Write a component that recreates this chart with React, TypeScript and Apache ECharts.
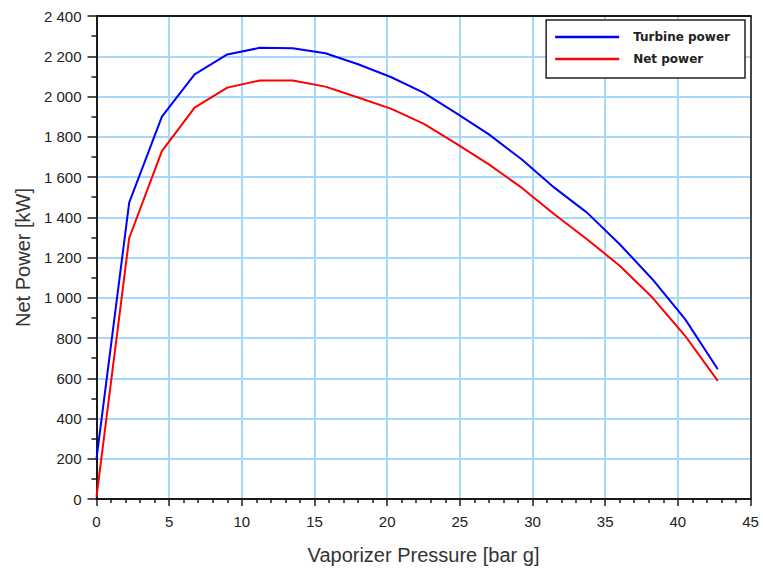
import React, { useEffect, useRef } from "react";
import * as echarts from "echarts";

// Vaporizer pressure sweep [bar g]
const pressure = [0, 2.25, 4.5, 6.75, 9, 11.25, 13.5, 15.75, 18, 20.25, 22.5, 24.75, 27, 29.25, 31.5, 33.75, 36, 38.25, 40.5, 42.75];
// Turbine power [kW]
const turbinePower = [200, 1473, 1900, 2110, 2209, 2242, 2240, 2215, 2160, 2097, 2019, 1917, 1812, 1688, 1547, 1423, 1266, 1092, 894, 645];
// Net power [kW]
const netPower = [10, 1297, 1729, 1945, 2044, 2080, 2080, 2049, 1995, 1940, 1865, 1766, 1663, 1547, 1415, 1291, 1159, 1001, 811, 587];

const seriesNames = ["Turbine power", "Net power"];
const seriesColors = ["#0000ff", "#ff0000"];

const FONT = "'Liberation Sans', Arial, sans-serif";
const GRID_BLUE = "#a6d8fc";
const AXIS_DARK = "#1a1a1a";

// y labels use a space as thousands separator: "2 400"
const fmtThousands = (v: number) => {
  if (v < 1000) return String(v);
  const th = Math.floor(v / 1000);
  const rest = String(v % 1000).padStart(3, "0");
  return `${th} ${rest}`;
};

export default function App() {
  const ref = useRef<HTMLDivElement>(null);

  useEffect(() => {
    if (!ref.current) return;
    const chart = echarts.init(ref.current, undefined, { renderer: "svg" });

    const toPairs = (ys: number[]) => pressure.map((p, i) => [p, ys[i]]);

    chart.setOption({
      animation: false,
      backgroundColor: "#ffffff",
      grid: { left: 96.5, right: 12.5, top: 16, bottom: 70, containLabel: false },
      legend: {
        orient: "vertical",
        right: 18,
        top: 20,
        backgroundColor: "#ffffff",
        borderColor: "#222",
        borderWidth: 1.5,
        padding: [10, 15, 12, 9],
        itemWidth: 64,
        itemHeight: 2.5,
        itemGap: 8,
        icon: "rect",
        textStyle: {
          fontFamily: "'DejaVu Sans', sans-serif",
          fontWeight: "bold",
          fontSize: 12,
          color: "#222",
          lineHeight: 14,
          padding: [0, 0, 0, 9],
        },
        data: seriesNames,
      },
      xAxis: [
        {
          type: "value",
          min: 0,
          max: 45,
          interval: 5,
          name: "Vaporizer Pressure [bar g]",
          nameLocation: "middle",
          nameGap: 46,
          nameTextStyle: { fontFamily: FONT, fontSize: 20, color: "#333" },
          axisLine: { show: true, onZero: false, lineStyle: { color: AXIS_DARK, width: 2 } },
          axisTick: { show: true, inside: false, length: 7, lineStyle: { color: AXIS_DARK, width: 1.5 } },
          minorTick: { show: true, splitNumber: 5, length: 4, lineStyle: { color: AXIS_DARK, width: 1.5 } },
          axisLabel: { margin: 15, fontFamily: FONT, fontSize: 15, color: "#222" },
          splitLine: { show: true, lineStyle: { color: GRID_BLUE, width: 2 } },
          minorSplitLine: { show: false },
        },
        {
          type: "value",
          position: "top",
          min: 0,
          max: 45,
          interval: 5,
          axisLine: { show: true, onZero: false, lineStyle: { color: AXIS_DARK, width: 2 } },
          axisTick: { show: false },
          axisLabel: { show: false },
          splitLine: { show: false },
        },
      ],
      yAxis: [
        {
          type: "value",
          min: 0,
          max: 2400,
          interval: 200,
          name: "Net Power [kW]",
          nameLocation: "middle",
          nameGap: 64,
          nameRotate: 90,
          nameTextStyle: { fontFamily: FONT, fontSize: 20, color: "#333" },
          axisLine: { show: true, onZero: false, lineStyle: { color: AXIS_DARK, width: 2 } },
          axisTick: { show: true, inside: false, length: 9, lineStyle: { color: AXIS_DARK, width: 1.5 } },
          minorTick: { show: true, splitNumber: 2, length: 5, lineStyle: { color: AXIS_DARK, width: 1.5 } },
          axisLabel: { margin: 15, fontFamily: FONT, fontSize: 15, color: "#222", formatter: fmtThousands },
          splitLine: { show: true, lineStyle: { color: GRID_BLUE, width: 2 } },
          minorSplitLine: { show: false },
        },
        {
          type: "value",
          position: "right",
          min: 0,
          max: 2400,
          interval: 200,
          axisLine: { show: true, onZero: false, lineStyle: { color: "#444", width: 2 } },
          axisTick: { show: false },
          axisLabel: { show: false },
          splitLine: { show: false },
        },
      ],
      series: [
        {
          name: seriesNames[0],
          type: "line",
          data: toPairs(turbinePower),
          showSymbol: false,
          lineStyle: { color: seriesColors[0], width: 2 },
          itemStyle: { color: seriesColors[0] },
        },
        {
          name: seriesNames[1],
          type: "line",
          data: toPairs(netPower),
          showSymbol: false,
          lineStyle: { color: seriesColors[1], width: 2 },
          itemStyle: { color: seriesColors[1] },
        },
      ],
    });

    return () => chart.dispose();
  }, []);

  return (
    <div
      ref={ref}
      style={{ position: "fixed", left: 0, top: 0, width: 763, height: 570, background: "#fff" }}
    />
  );
}
